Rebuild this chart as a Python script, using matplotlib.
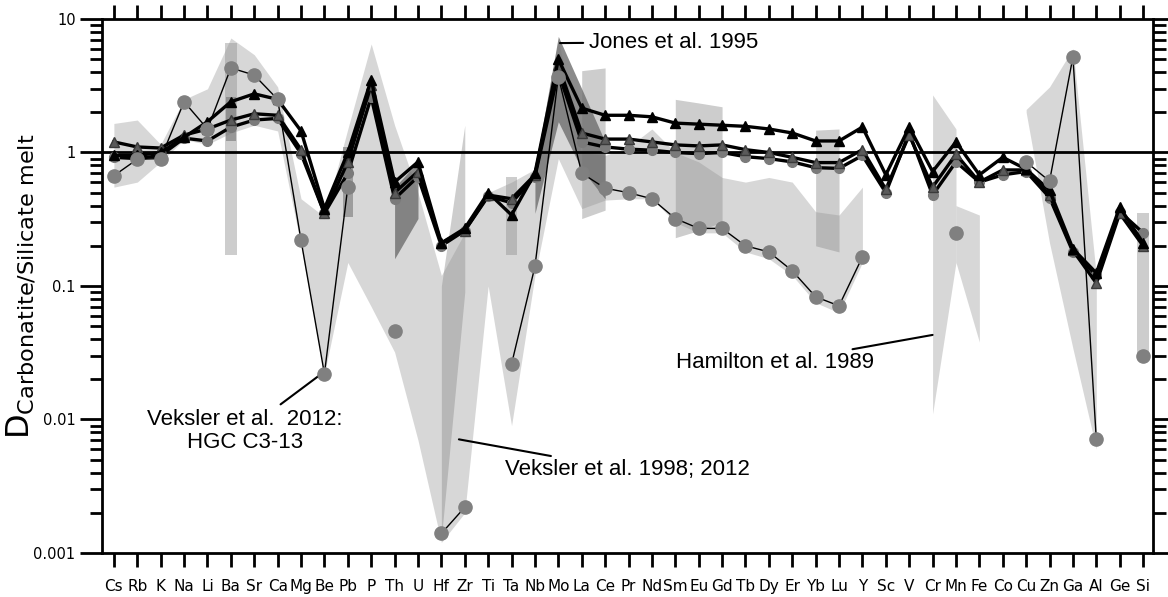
import numpy as np
import matplotlib
matplotlib.use("Agg")
import matplotlib.pyplot as plt
from matplotlib.ticker import LogLocator, NullFormatter

nan = np.nan

elements = ['Cs', 'Rb', 'K', 'Na', 'Li', 'Ba', 'Sr', 'Ca', 'Mg', 'Be', 'Pb', 'P', 'Th', 'U', 'Hf',
            'Zr', 'Ti', 'Ta', 'Nb', 'Mo', 'La', 'Ce', 'Pr', 'Nd', 'Sm', 'Eu', 'Gd', 'Tb', 'Dy', 'Er',
            'Yb', 'Lu', 'Y', 'Sc', 'V', 'Cr', 'Mn', 'Fe', 'Co', 'Cu', 'Zn', 'Ga', 'Al', 'Ge', 'Si']
ytick_vals = [0.001, 0.01, 0.1, 1, 10]
ytick_labels = ['0.001', '0.01', '0.1', '1', '10']

# Jones et al. 1995 experiments (three runs)
jones_a = [0.95, 0.95, 1.0, 1.3, 1.7, 2.4, 2.75, 2.5, 1.45, 0.38, 1.0, 3.5, 0.6, 0.85, 0.21,
           0.27, 0.5, 0.34, 0.7, 5.0, 2.15, 1.9, 1.9, 1.85, 1.66, 1.63, 1.6, 1.57, 1.5, 1.4,
           1.22, 1.22, 1.55, 0.68, 1.55, 0.72, 1.2, 0.68, 0.92, 0.75, 0.52, 0.19, 0.125, 0.39, 0.21]
jones_b = [1.2, 1.1, 1.08, 1.35, 1.5, 1.75, 1.95, 1.9, 1.05, 0.35, 0.85, 3.2, 0.5, 0.72, 0.21,
           0.26, 0.48, 0.45, 0.68, 4.5, 1.4, 1.26, 1.26, 1.2, 1.14, 1.12, 1.14, 1.05, 1.0, 0.92,
           0.84, 0.84, 1.05, 0.53, 1.35, 0.55, 0.97, 0.6, 0.74, 0.74, 0.48, 0.185, 0.105, 0.35, 0.2]
jones_c = [0.92, 0.9, 0.95, 1.28, 1.22, 1.55, 1.75, 1.8, 0.98, 0.35, 0.7, 2.6, 0.45, 0.66, 0.2,
           0.26, 0.47, 0.42, 0.66, 4.0, 1.2, 1.1, 1.06, 1.04, 1.0, 0.98, 1.0, 0.93, 0.9, 0.85,
           0.77, 0.76, 0.95, 0.5, 1.4, 0.48, 0.85, 0.6, 0.68, 0.72, 0.46, 0.18, 0.12, 0.36, 0.25]

# Veksler et al. 2012, HGC C3-13
vek12 = [0.67, 0.89, 0.90, 2.4, 1.5, 4.3, 3.8, 2.5, 0.22, 0.022, 0.55, nan, 0.046, nan, 0.0014,
         0.0022, nan, 0.026, 0.14, 3.7, 0.70, 0.54, 0.50, 0.45, 0.32, 0.27, 0.27, 0.20, 0.18, 0.13,
         0.083, 0.071, 0.165, nan, nan, nan, 0.25, nan, nan, 0.85, 0.61, 5.2, 0.0071, nan, 0.030]

# Veksler et al. 1998; 2012 range (Cs..Y)
vek_hi = [1.65, 1.75, 1.15, 2.5, 3.0, 7.2, 5.4, 3.1, 0.45, 0.33, 1.5, 6.5, 1.6, 0.5, 0.12,
          0.25, 0.5, 0.6, 0.75, 7.0, 1.0, 0.95, 1.1, 1.5, 1.0, 0.85, 0.65, 0.6, 0.65, 0.6,
          0.36, 0.34, 0.55]
vek_lo = [0.55, 0.6, 0.85, 1.25, 1.15, 1.4, 1.6, 1.45, 0.2, 0.022, 0.15, 0.07, 0.032, 0.007, 0.0012,
          0.002, 0.1, 0.009, 0.12, 0.9, 0.38, 0.44, 0.45, 0.45, 0.3, 0.25, 0.25, 0.18, 0.16, 0.12,
          0.075, 0.063, 0.15]
vek_cr_idx = [35, 36]
vek_cr_hi = [2.7, 1.5]
vek_cr_lo = [0.011, 0.15]
vek_mn_idx = [36, 37]
vek_mn_hi = [0.4, 0.34]
vek_mn_lo = [0.15, 0.038]
vek_ga_idx = [39, 40, 41, 42]
vek_ga_hi = [2.1, 3.1, 6.0, 0.12]
vek_ga_lo = [2.0, 0.21, 0.034, 0.006]

# Hamilton et al. 1989 ranges
ham_bar_idx = [5, 17, 44]
ham_bar_hi = [6.6, 0.66, 0.35]
ham_bar_lo = [0.17, 0.17, 0.03]
ham_bands = {
    'HfZr': ([14, 15], [0.1, 1.6], [0.0013, 0.09]),
    'LaCe': ([20, 21], [4.1, 4.3], [0.32, 0.37]),
    'SmGd': ([24, 25, 26], [2.5, 2.35, 2.2], [0.23, 0.26, 0.3]),
    'YbLu': ([30, 31], [1.47, 1.5], [0.2, 0.18]),
}

# Jones et al. 1995 ranges
jones_bar_idx = [5, 10]
jones_bar_hi = [2.6, 1.1]
jones_bar_lo = [1.22, 0.33]
jones_bands = {
    'ThU': ([12, 13], [0.55, 0.85], [0.16, 0.32]),
    'NbCe': ([18, 19, 20, 21], [0.75, 7.4, 3.0, 1.2], [0.35, 1.7, 0.75, 0.45]),
}

x = np.arange(len(elements))

fig = plt.figure(figsize=(11.68, 5.97), dpi=100)
ax = fig.add_axes([0.0873, 0.0737, 0.9, 0.8945])
ax.set_yscale('log')

# shaded ranges
c_vek, a_vek = '#b0b0b0', 0.5
c_ham, a_ham = '#909090', 0.45
c_jon, a_jon = '#6e6e6e', 0.8

nv = len(vek_hi)
ax.fill_between(x[:nv], vek_lo, vek_hi, color=c_vek, alpha=a_vek, lw=0, zorder=1)
ax.fill_between(vek_cr_idx, vek_cr_lo, vek_cr_hi, color=c_vek, alpha=a_vek, lw=0, zorder=1)
ax.fill_between(vek_mn_idx, vek_mn_lo, vek_mn_hi, color=c_vek, alpha=a_vek, lw=0, zorder=1)
ax.fill_between(vek_ga_idx, vek_ga_lo, vek_ga_hi, color=c_vek, alpha=a_vek, lw=0, zorder=1)

ax.bar(ham_bar_idx, np.array(ham_bar_hi) - np.array(ham_bar_lo), bottom=ham_bar_lo,
       width=0.5, color=c_ham, alpha=a_ham, lw=0, zorder=1)
for key in ham_bands:
    idx, hi, lo = ham_bands[key]
    ax.fill_between(idx, lo, hi, color=c_ham, alpha=a_ham, lw=0, zorder=1)

ax.bar(jones_bar_idx, np.array(jones_bar_hi) - np.array(jones_bar_lo), bottom=jones_bar_lo,
       width=0.45, color=c_jon, alpha=0.55, lw=0, zorder=1.5)
for key in jones_bands:
    idx, hi, lo = jones_bands[key]
    ax.fill_between(idx, lo, hi, color=c_jon, alpha=a_jon, lw=0, zorder=1.5)

ax.axhline(1, color='black', lw=2, zorder=2)

# data series
ax.plot(x, vek12, color='black', lw=1, zorder=3)
ax.plot(x, jones_c, color='black', lw=2.4, marker='o', ms=7, mfc='#7a7a7a', mec='#7a7a7a', zorder=4)
ax.plot(x, jones_b, color='black', lw=2.4, marker='^', ms=7.5, mfc='#5a5a5a', mec='#3a3a3a', zorder=4)
ax.plot(x, jones_a, color='black', lw=2.4, marker='^', ms=7.5, mfc='black', mec='black', zorder=5)
ax.plot(x, vek12, ls='none', marker='o', ms=9.5, mfc='#808080', mec='#808080', zorder=6)

# axes styling
ax.set_xlim(-0.51, 44.43)
ax.set_ylim(0.001, 10)
ax.set_xticks(x)
ax.set_xticklabels(elements, fontsize=11, family='DejaVu Sans')
ax.set_yticks(ytick_vals)
ax.set_yticklabels(ytick_labels, fontsize=10.5)
ax.yaxis.set_minor_locator(LogLocator(base=10, subs=np.arange(2, 10)))
ax.yaxis.set_minor_formatter(NullFormatter())
ax.tick_params(axis='x', which='major', direction='out', length=10, width=2,
               top=True, bottom=True, pad=9)
ax.tick_params(axis='y', which='major', direction='out', length=16, width=2,
               left=True, right=True, pad=3)
ax.tick_params(axis='y', which='minor', direction='out', length=9, width=2,
               left=True, right=True)
for sp in ax.spines.values():
    sp.set_linewidth(2)

ax.set_ylabel(r'D$_{\mathrm{Carbonatite/Silicate\ melt}}$', fontsize=23)
ax.yaxis.set_label_coords(-0.062, 0.5)

# annotations
tfont = dict(fontsize=16, family='Liberation Sans')
lprops = dict(arrowstyle='-', color='black', lw=1.5, shrinkA=2, shrinkB=0)
ax.annotate('Jones et al. 1995', xy=(19.07, 6.6), xytext=(20.3, 6.7),
            ha='left', va='center', arrowprops=lprops, **tfont)
ax.annotate('Veksler et al.  2012:\nHGC C3-13', xy=(8.8, 0.0215), xytext=(5.6, 0.0082),
            ha='center', va='center', multialignment='center', linespacing=1.15,
            arrowprops=lprops, **tfont)
ax.annotate('Veksler et al. 1998; 2012', xy=(14.75, 0.0071), xytext=(16.7, 0.0042),
            ha='left', va='center', arrowprops=lprops, **tfont)
ax.annotate('Hamilton et al. 1989', xy=(35.0, 0.043), xytext=(24.05, 0.0265),
            ha='left', va='center', arrowprops=lprops, **tfont)

fig.savefig('out.png', dpi=100)
